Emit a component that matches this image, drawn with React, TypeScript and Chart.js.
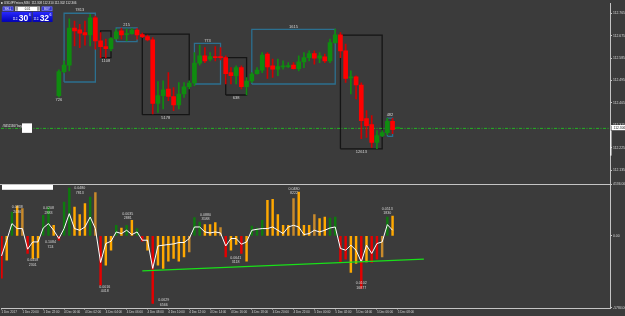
import React, { useEffect, useRef } from 'react';
import { Chart, registerables } from 'chart.js';

Chart.register(...registerables);

// ---------------- data ----------------
const TITLE_TEXT = 'USDJPYmicro,M30  112.308 112.310 112.302 112.306';

// price candles, M30, first visible candle sits in slot 11
const FIRST_CANDLE_SLOT = 11;
const OPEN = [112.434,112.531,112.557,112.706,112.698,112.687,112.678,112.747,112.654,112.631,
112.623,112.663,112.694,112.679,112.683,112.697,112.679,112.671,112.658,112.403,
112.434,112.461,112.431,112.397,112.441,112.470,112.485,112.565,112.594,112.581,
112.591,112.590,112.587,112.527,112.514,112.547,112.470,112.493,112.523,112.537,
112.601,112.554,112.541,112.550,112.551,112.557,112.543,112.570,112.587,112.603,
112.585,112.590,112.574,112.647,112.678,112.614,112.505,112.510,112.477,112.342,
112.318,112.247,112.274,112.286,112.331,112.303];
const HIGH = [112.538,112.574,112.743,112.734,112.721,112.734,112.761,112.754,112.687,112.661,
112.667,112.701,112.705,112.701,112.703,112.703,112.685,112.677,112.667,112.491,
112.494,112.527,112.467,112.487,112.487,112.494,112.607,112.637,112.627,112.607,
112.631,112.627,112.594,112.547,112.554,112.554,112.507,112.527,112.547,112.607,
112.607,112.581,112.581,112.574,112.567,112.567,112.594,112.607,112.614,112.614,
112.607,112.601,112.661,112.701,112.687,112.641,112.534,112.514,112.486,112.374,
112.354,112.294,112.294,112.343,112.343,112.308];
const LOW = [112.428,112.526,112.534,112.634,112.627,112.637,112.634,112.621,112.587,112.587,
112.614,112.661,112.661,112.654,112.681,112.661,112.667,112.654,112.361,112.367,
112.381,112.414,112.374,112.381,112.427,112.461,112.474,112.557,112.567,112.574,
112.574,112.578,112.481,112.481,112.481,112.461,112.437,112.487,112.521,112.527,
112.503,112.507,112.514,112.541,112.547,112.541,112.534,112.547,112.574,112.561,
112.567,112.567,112.567,112.645,112.587,112.487,112.441,112.421,112.262,112.267,
112.227,112.221,112.270,112.278,112.282,112.302];
const CLOSE = [112.531,112.557,112.706,112.694,112.685,112.678,112.747,112.654,112.631,112.623,
112.663,112.690,112.678,112.683,112.697,112.678,112.671,112.658,112.403,112.435,
112.458,112.431,112.397,112.441,112.470,112.485,112.565,112.594,112.574,112.591,
112.587,112.587,112.523,112.514,112.547,112.470,112.493,112.521,112.537,112.597,
112.550,112.541,112.551,112.554,112.555,112.543,112.570,112.587,112.603,112.585,
112.594,112.574,112.647,112.678,112.614,112.503,112.510,112.477,112.334,112.314,
112.247,112.274,112.286,112.331,112.298,112.306];

const PRICE_TICKS = [112.765,112.720,112.675,112.630,112.585,112.540,112.495,112.450,
112.405,112.360,112.315,112.270,112.225,112.180,112.135,112.090];
const PRICE_MIN = 112.078;
const PRICE_MAX = 112.806;
const ORDER_PRICE = 112.303;
const BID_PRICE = 112.306;
const ORDER_TEXT = '#84521367 buy 0.01';
const SELL_PREFIX = '112.';
const SELL_BIG = '30';
const SELL_SUP = '6';
const BUY_PREFIX = '112.';
const BUY_BIG = '32';
const BUY_SUP = '6';
const LOT_TEXT = '0.01';

// wave boxes (slot range, price range, wave volume)
const BOX_START = [12, 19, 22, 27, 37, 43, 48, 65, 74];
const BOX_END = [18, 21, 26, 36, 42, 47, 64, 73, 75];
const BOX_HIGH = [112.765, 112.694, 112.706, 112.681, 112.644, 112.587, 112.700, 112.677, 112.344];
const BOX_LOW = [112.489, 112.587, 112.651, 112.358, 112.481, 112.437, 112.481, 112.221, 112.271];
const BOX_VOLUME = ['7813', '1108', '215', '5178', '773', '638', '1615', '12613', '482'];
const BOX_UP = [true, false, true, false, true, false, true, false, true];
const EXTRA_LABEL_SLOT = [11];
const EXTRA_LABEL_PRICE = [112.428];
const EXTRA_LABEL_TEXT = ['726'];

// lower panel: wave volume histogram + oscillator
const LOWER_VALUES = [-3384,-1944,1920,2400,2192,-1408,-1808,-1760,1656,2296,
856,-344,2720,3840,2320,1712,2592,3120,3472,-3944,
-2344,-1144,856,640,856,1256,592,-424,-1144,-5408,
-2344,-2608,-2024,-1808,-2024,-1680,-1280,1472,1120,912,
912,1072,672,-1680,-1144,-688,-1408,-2024,800,640,
1256,2856,2936,1712,856,856,2992,3520,856,856,
1712,1392,1520,1440,1520,-2080,-1864,-2928,-2208,-4208,
-2080,-2128,-1864,-1680,1520,1600];
const LOWER_KIND = ['R','O','G','O','D','R','O','O','G','G',
'O','R','G','G','O','O','O','G','D','R',
'O','O','G','O','G','O','G','R','O','R',
'O','O','O','O','O','O','D','G','G','O',
'O','O','D','R','O','O','R','O','G','G',
'G','O','O','O','O','O','D','O','O','O',
'D','O','O','G','G','R','R','O','O','R',
'O','R','R','D','G','O'];
const OSC = [-1600,-344,992,592,592,-1064,-480,-480,640,992,
456,-208,592,1792,592,456,720,1520,592,-2128,
-608,-424,320,192,456,112,320,-344,-344,-2608,
-800,-744,-688,-640,-528,-528,-208,720,720,320,
240,320,240,-800,-208,-208,-664,-480,456,536,
592,592,720,456,192,720,856,720,112,192,
456,320,456,640,720,-1008,-1144,-744,-1144,-2080,
-744,-1408,-608,-480,912,456];
const TREND_SLOTS = [27, 81];
const TREND_VALUES = [-2800, -1864];
const LOWER_MIN = -5784;
const LOWER_MAX = 4136;
const LOWER_LABEL_SLOT = [3, 6, 9, 9.4, 15, 19.8, 24.2, 31.1, 39.1, 44.9, 56.1, 69, 74];
const LOWER_LABEL_VALUE = [2320, -1944, 2240, -480, 3840, -4080, 1792, -5144, 1712, -1760, 3792, -3808, 2192];
const LOWER_LABEL_TOP = ['0.0838','0.0458','0.0208','0.1084','0.0480','0.0016','0.0035','0.0629','0.0880','0.0641','0.0480','0.0102','0.0513'];
const LOWER_LABEL_BOTTOM = ['2036','2301','2883','724','7813','4418','2881','6566','3588','3118','8222','16877','1830'];

// time axis
const TIME_SLOTS = [0,4,8,12,16,20,24,28,32,36,40,44,48,52,56,60,64,68,72,76];
const TIME_LABELS = ['1 Dec 2017','1 Dec 20:00','1 Dec 22:00','4 Dec 00:00','4 Dec 02:00','4 Dec 04:00',
'4 Dec 06:00','4 Dec 08:00','4 Dec 10:00','4 Dec 12:00','4 Dec 14:00','4 Dec 16:00','4 Dec 18:00',
'4 Dec 20:00','4 Dec 22:00','5 Dec 00:00','5 Dec 02:00','5 Dec 04:00','5 Dec 06:00','5 Dec 08:00'];
const X_MIN = -0.1;
const X_MAX = 116.7;

// ---------------- styles ----------------
const FONT = '"Liberation Sans", Arial, sans-serif';
const C = {
  bg: '#3b3b3b',
  up: '#0f8c0f',
  down: '#ff0000',
  boxUp: '#2c7090',
  boxDown: '#151515',
  text: '#d6d6d6',
  axis: '#c4c4c4',
  order: '#22b422',
  osc: '#ffffff',
  trend: '#19e019',
  G: '#0e7a0e',
  O: '#ffa800',
  D: '#c88a2c',
  R: '#e40000',
};

const slots = OPEN.map((_, i) => FIRST_CANDLE_SLOT + i);
const isUp = (i: number) => CLOSE[i] >= OPEN[i];

function boxPoints(up: boolean) {
  const pts: any[] = [];
  BOX_START.forEach((s, i) => {
    if (BOX_UP[i] !== up) return;
    const e = BOX_END[i];
    pts.push({ x: s, y: BOX_LOW[i] }, { x: s, y: BOX_HIGH[i] }, { x: e, y: BOX_HIGH[i] },
      { x: e, y: BOX_LOW[i] }, { x: s, y: BOX_LOW[i] }, { x: e, y: null });
  });
  return pts;
}

const bgPlugin = {
  id: 'mtBackground',
  beforeDraw(chart: any) {
    const { ctx, width, height } = chart;
    ctx.save();
    ctx.fillStyle = C.bg;
    ctx.fillRect(0, 0, width, height);
    ctx.restore();
  },
};

const labelPlugin = {
  id: 'waveLabels',
  afterDatasetsDraw(chart: any) {
    const { ctx, scales } = chart;
    const x = scales.x, y = scales.y, y2 = scales.y2;
    ctx.save();
    ctx.fillStyle = C.text;
    ctx.textAlign = 'center';
    ctx.textBaseline = 'middle';
    ctx.font = `4px ${FONT}`;
    BOX_START.forEach((s, i) => {
      const cx = (x.getPixelForValue(s) + x.getPixelForValue(BOX_END[i])) / 2;
      const cy = BOX_UP[i] ? y.getPixelForValue(BOX_HIGH[i]) - 3 : y.getPixelForValue(BOX_LOW[i]) + 3.3;
      ctx.fillText(BOX_VOLUME[i], cx, cy);
    });
    EXTRA_LABEL_SLOT.forEach((s, i) => {
      ctx.fillText(EXTRA_LABEL_TEXT[i], x.getPixelForValue(s), y.getPixelForValue(EXTRA_LABEL_PRICE[i]) + 3);
    });
    ctx.font = `3.6px ${FONT}`;
    LOWER_LABEL_SLOT.forEach((s, i) => {
      const cx = x.getPixelForValue(s);
      const cy = y2.getPixelForValue(LOWER_LABEL_VALUE[i]);
      ctx.fillText(LOWER_LABEL_TOP[i], cx, cy);
      ctx.fillText(LOWER_LABEL_BOTTOM[i], cx, cy + 4.6);
    });
    ctx.restore();
  },
};

function blueButton(ctx: any, x: number, yy: number, w: number, h: number, text: string) {
  ctx.fillStyle = '#3434d2';
  ctx.fillRect(x, yy, w, h);
  ctx.strokeStyle = '#8a8aff';
  ctx.lineWidth = 0.5;
  ctx.strokeRect(x + 0.25, yy + 0.25, w - 0.5, h - 0.5);
  ctx.fillStyle = '#ffffff';
  ctx.font = `2.8px ${FONT}`;
  ctx.textAlign = 'center';
  ctx.textBaseline = 'middle';
  ctx.fillText(text, x + w / 2, yy + h / 2 + 0.2);
}

function bigPanel(ctx: any, x: number, yy: number, w: number, h: number, prefix: string, big: string, sup: string) {
  const g = ctx.createLinearGradient(0, yy, 0, yy + h);
  g.addColorStop(0, '#2a2aff');
  g.addColorStop(1, '#0000b8');
  ctx.fillStyle = g;
  ctx.fillRect(x, yy, w, h);
  ctx.fillStyle = '#ffffff';
  ctx.textBaseline = 'alphabetic';
  ctx.textAlign = 'right';
  ctx.font = `bold 8.5px ${FONT}`;
  const bigRight = x + w - 3.5;
  ctx.fillText(big, bigRight, yy + h - 1.3);
  const bigW = ctx.measureText(big).width;
  ctx.font = `3px ${FONT}`;
  ctx.fillText(prefix, bigRight - bigW - 0.5, yy + h - 1.5);
  ctx.textAlign = 'left';
  ctx.font = `3.5px ${FONT}`;
  ctx.fillText(sup, bigRight + 0.5, yy + 4);
}

const chromePlugin = {
  id: 'mtChrome',
  afterDraw(chart: any) {
    const { ctx, scales, chartArea } = chart;
    const y = scales.y, y2 = scales.y2;
    ctx.save();
    // panel separator
    ctx.strokeStyle = C.axis;
    ctx.lineWidth = 1;
    ctx.beginPath();
    const sy = Math.round(y2.top) + 0.5;
    ctx.moveTo(0, sy);
    ctx.lineTo(chartArea.right, sy);
    ctx.stroke();
    // indicator name box
    ctx.fillStyle = '#ffffff';
    ctx.fillRect(2, sy + 0.5, 51, 4.8);
    // order line label
    const oy = y.getPixelForValue(ORDER_PRICE);
    ctx.font = `2.8px ${FONT}`;
    ctx.textAlign = 'left';
    ctx.textBaseline = 'middle';
    ctx.fillStyle = '#e8e8e8';
    ctx.fillText(ORDER_TEXT, 2.5, oy - 2);
    ctx.fillStyle = '#ffffff';
    ctx.fillRect(22, oy - 5, 10, 9.5);
    // bid label on price axis
    const by = y.getPixelForValue(BID_PRICE);
    ctx.fillStyle = '#ffffff';
    ctx.fillRect(chartArea.right + 1.5, by - 2.6, 14, 5.2);
    ctx.fillStyle = '#202020';
    ctx.font = `3.4px ${FONT}`;
    ctx.fillText(BID_PRICE.toFixed(3), chartArea.right + 3.5, by + 0.1);
    ctx.fillStyle = '#f0f0f0';
    ctx.fillRect(chartArea.right, by + 3, 1.5, 25);
    // title
    ctx.fillStyle = '#e0e0e0';
    ctx.fillRect(1, 2.2, 1.6, 1.6);
    ctx.font = `3px ${FONT}`;
    ctx.textAlign = 'left';
    ctx.textBaseline = 'middle';
    ctx.fillText(TITLE_TEXT, 4, 3);
    // one-click trading panel
    blueButton(ctx, 2.7, 6.6, 10.6, 4.4, 'SELL');
    blueButton(ctx, 41.7, 6.6, 10.6, 4.4, 'BUY');
    ctx.fillStyle = '#ffffff';
    ctx.fillRect(15, 6.6, 25, 4.4);
    ctx.fillStyle = '#9a9a9a';
    ctx.fillRect(15.3, 6.9, 2.6, 3.8);
    ctx.fillRect(37.1, 6.9, 2.6, 3.8);
    ctx.fillStyle = '#101010';
    ctx.font = `2.8px ${FONT}`;
    ctx.textAlign = 'center';
    ctx.fillText(LOT_TEXT, 27.5, 8.9);
    bigPanel(ctx, 1.7, 11.7, 30, 10.2, SELL_PREFIX, SELL_BIG, SELL_SUP);
    bigPanel(ctx, 32.6, 11.7, 20, 10.2, BUY_PREFIX, BUY_BIG, BUY_SUP);
    ctx.restore();
  },
};

function makeConfig(): any {
  return {
    type: 'bar',
    data: {
      datasets: [
        {
          type: 'bar', label: 'body', yAxisID: 'y', xAxisID: 'x', order: 1, grouped: false,
          data: slots.map((s, i) => ({ x: s, y: [OPEN[i], CLOSE[i]] })),
          backgroundColor: (c: any) => (isUp(c.dataIndex) ? C.up : C.down),
          barThickness: 4, minBarLength: 1, borderWidth: 0,
        },
        {
          type: 'bar', label: 'wick', yAxisID: 'y', xAxisID: 'x', order: 2, grouped: false,
          data: slots.map((s, i) => ({ x: s, y: [LOW[i], HIGH[i]] })),
          backgroundColor: (c: any) => (isUp(c.dataIndex) ? C.up : '#d00000'),
          barThickness: 1, borderWidth: 0,
        },
        {
          type: 'line', label: 'up boxes', yAxisID: 'y', xAxisID: 'x', order: 5,
          data: boxPoints(true), borderColor: C.boxUp, borderWidth: 1.3,
          pointRadius: 0, spanGaps: false, tension: 0,
        },
        {
          type: 'line', label: 'down boxes', yAxisID: 'y', xAxisID: 'x', order: 6,
          data: boxPoints(false), borderColor: C.boxDown, borderWidth: 1.3,
          pointRadius: 0, spanGaps: false, tension: 0,
        },
        {
          type: 'line', label: 'order', yAxisID: 'y', xAxisID: 'x', order: 4,
          data: [{ x: X_MIN, y: ORDER_PRICE }, { x: X_MAX, y: ORDER_PRICE }],
          borderColor: C.order, borderWidth: 1, borderDash: [3, 1.5, 1, 1.5], pointRadius: 0,
        },
        {
          type: 'bar', label: 'wave volume', yAxisID: 'y2', xAxisID: 'x', order: 3, grouped: false,
          data: LOWER_VALUES.map((v, i) => ({ x: i, y: v })),
          backgroundColor: (c: any) => (C as any)[LOWER_KIND[c.dataIndex]],
          barThickness: 1.8, borderWidth: 0,
        },
        {
          type: 'line', label: 'oscillator', yAxisID: 'y2', xAxisID: 'x', order: 1,
          data: OSC.map((v, i) => ({ x: i, y: v })),
          borderColor: C.osc, borderWidth: 1, pointRadius: 0, tension: 0,
        },
        {
          type: 'line', label: 'trend', yAxisID: 'y2', xAxisID: 'x', order: 0,
          data: TREND_SLOTS.map((s, i) => ({ x: s, y: TREND_VALUES[i] })),
          borderColor: C.trend, borderWidth: 1.4, pointRadius: 0,
        },
      ],
    },
    options: {
      animation: false,
      responsive: false,
      devicePixelRatio: 1,
      events: [],
      layout: { padding: { left: 1, top: 2, right: 0, bottom: 0 } },
      plugins: { legend: { display: false }, tooltip: { enabled: false } },
      scales: {
        x: {
          type: 'linear', min: X_MIN, max: X_MAX, offset: false, position: 'bottom',
          grid: { display: true, drawOnChartArea: false, drawTicks: true, tickLength: 1.5, color: C.axis, offset: false },
          border: { display: true, color: C.axis, width: 1 },
          afterBuildTicks: (s: any) => { s.ticks = TIME_SLOTS.map((v) => ({ value: v })); },
          afterFit: (s: any) => { s.height = 8; },
          ticks: {
            autoSkip: false, maxRotation: 0, minRotation: 0, align: 'start', padding: 0.5,
            color: C.text, font: { family: FONT, size: 3 },
            callback: (_v: any, i: number) => TIME_LABELS[i],
          },
        },
        y: {
          type: 'linear', position: 'right', stack: 'panes', stackWeight: 182, offset: false,
          min: PRICE_MIN, max: PRICE_MAX,
          grid: { display: true, drawOnChartArea: false, tickLength: 2, color: C.axis },
          border: { display: true, color: C.axis, width: 1 },
          afterBuildTicks: (s: any) => { s.ticks = PRICE_TICKS.map((v) => ({ value: v })); },
          afterFit: (s: any) => { s.width = 15; },
          ticks: { padding: 1, color: C.text, font: { family: FONT, size: 3.4 }, callback: (v: any) => Number(v).toFixed(3) },
        },
        y2: {
          type: 'linear', position: 'right', stack: 'panes', stackWeight: 124, offset: false,
          min: LOWER_MIN, max: LOWER_MAX,
          grid: { display: true, drawOnChartArea: false, tickLength: 2, color: C.axis },
          border: { display: true, color: C.axis, width: 1 },
          afterBuildTicks: (s: any) => { s.ticks = [LOWER_MAX, 0, LOWER_MIN].map((v) => ({ value: v })); },
          afterFit: (s: any) => { s.width = 15; },
          ticks: { padding: 1, color: C.text, font: { family: FONT, size: 3.4 }, callback: (v: any) => Number(v).toFixed(2) },
        },
      },
    },
    plugins: [bgPlugin, labelPlugin, chromePlugin],
  };
}

export default function App() {
  const ref = useRef<HTMLCanvasElement>(null);
  useEffect(() => {
    document.body.style.margin = '0';
    document.body.style.background = C.bg;
    const chart = new Chart(ref.current as HTMLCanvasElement, makeConfig());
    return () => chart.destroy();
  }, []);
  return (
    <div style={{ width: 625, height: 316, position: 'relative' }}>
      <canvas ref={ref} width={625} height={316} style={{ display: 'block', width: 625, height: 316 }} />
    </div>
  );
}
